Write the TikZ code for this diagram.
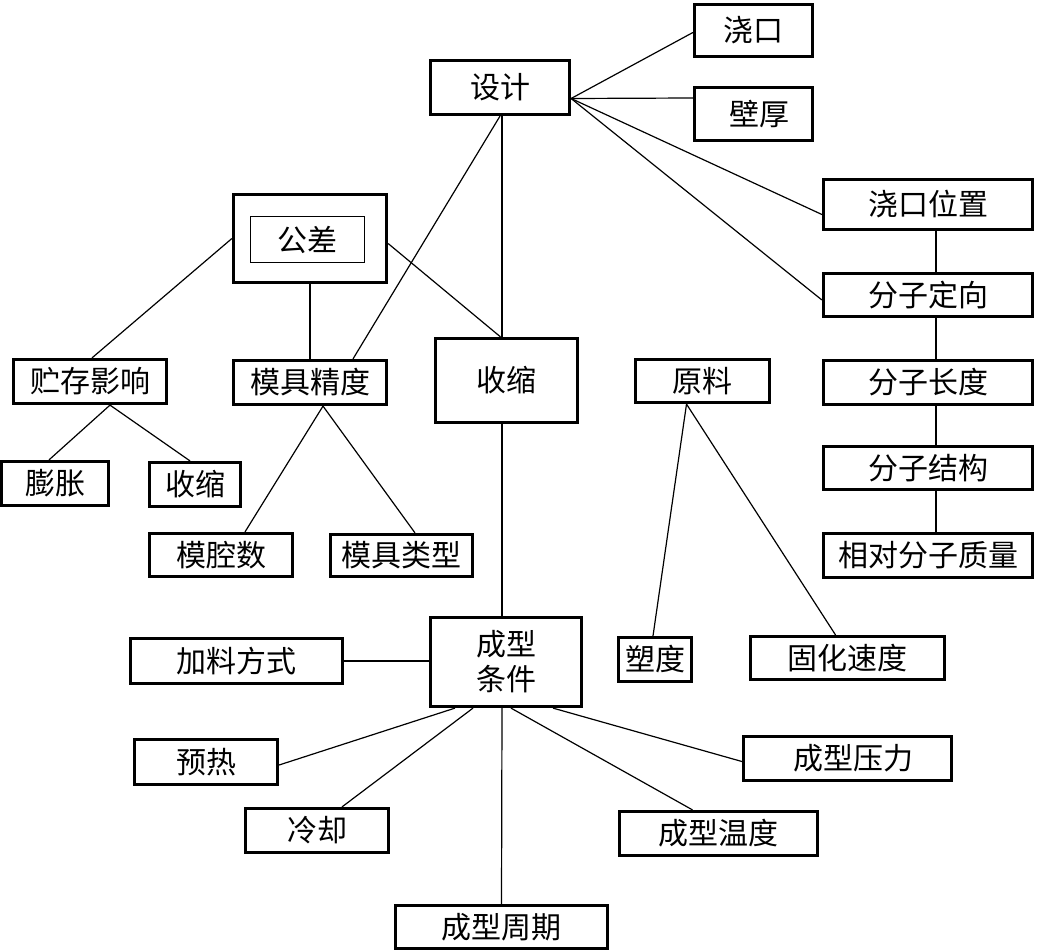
\documentclass[tikz,border=0pt]{standalone}
\usepackage{fontspec}
\newfontfamily\cjk{Noto Sans CJK SC}
\begin{document}
\begin{tikzpicture}[x=1pt,y=-1pt,
  font=\cjk\fontsize{30}{35}\selectfont,
  bx/.style={draw,line width=3.2pt,inner sep=0pt,align=center},
  ln/.style={line width=1.2pt}]
  \useasboundingbox (0,0) rectangle (1038,952);
  \node[bx,minimum width=139pt,minimum height=54pt] (sheji) at (500,87.5) {设计};
  \node[bx,minimum width=118pt,minimum height=52pt] (jiaokou) at (753.5,30.5) {浇口};
  \node[bx,minimum width=118pt,minimum height=53pt] (bihou) at (753.5,114) {\hspace{12pt}壁厚};
  \node[bx,minimum width=209pt,minimum height=50pt] (jkwz) at (928,204.5) {浇口位置};
  \node[bx,minimum width=209pt,minimum height=43pt] (fzdx) at (928,295) {分子定向};
  \node[bx,minimum width=209pt,minimum height=44pt] (fzcd) at (928,382.5) {分子长度};
  \node[bx,minimum width=209pt,minimum height=43pt] (fzjg) at (928,468) {分子结构};
  \node[bx,minimum width=209pt,minimum height=44pt] (xdfz) at (928,555.5) {相对分子质量};
  \node[bx,minimum width=153pt,minimum height=88pt] (gongcha) at (310,238.5) {};
  \node[draw,line width=1pt,inner sep=0pt,minimum width=114pt,minimum height=46pt] (gcin) at (307.5,239.5) {公差};
  \node[bx,minimum width=153pt,minimum height=44pt] (zcyx) at (90,381.5) {贮存影响};
  \node[bx,minimum width=153pt,minimum height=44pt] (mjjd) at (310,382.5) {模具精度};
  \node[bx,minimum width=142pt,minimum height=84pt] (shousuo) at (506.5,380.5) {收缩};
  \node[bx,minimum width=107pt,minimum height=44pt] (pengzhang) at (55,483.5) {膨胀};
  \node[bx,minimum width=91pt,minimum height=44pt] (ssx) at (195,484.5) {收缩};
  \node[bx,minimum width=143pt,minimum height=43pt] (mqs) at (221,555) {模腔数};
  \node[bx,minimum width=142pt,minimum height=42pt] (mjlx) at (401.5,555.5) {模具类型};
  \node[bx,minimum width=134pt,minimum height=43pt] (yuanliao) at (702.5,381) {原料};
  \node[bx,minimum width=151pt,minimum height=89pt] (cxtj) at (506,662) {成型\\条件};
  \node[bx,minimum width=212pt,minimum height=45pt] (jlfs) at (236.5,661) {加料方式};
  \node[bx,minimum width=73pt,minimum height=44pt] (sudu) at (655,659.5) {塑度};
  \node[bx,minimum width=194pt,minimum height=43pt] (ghsd) at (847.5,658) {固化速度};
  \node[bx,minimum width=143pt,minimum height=45pt] (yure) at (206,762) {预热};
  \node[bx,minimum width=143pt,minimum height=44pt] (lengque) at (317,830.5) {冷却};
  \node[bx,minimum width=208pt,minimum height=44pt] (cxyl) at (847.5,758.5) {\hspace{12pt}成型压力};
  \node[bx,minimum width=198pt,minimum height=44pt] (cxwd) at (718.5,833.5) {成型温度};
  \node[bx,minimum width=212pt,minimum height=43pt] (cxzq) at (501.5,927) {成型周期};
  \draw[ln] ([yshift=-11pt]sheji.east) -- ([yshift=-2pt]jiaokou.west);
  \draw[ln] ([yshift=-11pt]sheji.east) -- ([yshift=16pt]bihou.west);
  \draw[ln] ([yshift=-11pt]sheji.east) -- ([yshift=-10pt]jkwz.west);
  \draw[ln] ([yshift=-11pt]sheji.east) -- ([yshift=-5pt]fzdx.west);
  \draw[ln] ([xshift=2pt]sheji.south) -- ([xshift=-4.5pt]shousuo.north);
  \draw[ln] (sheji.south) -- ([xshift=43pt]mjjd.north);
  \draw[ln] (gongcha.west) -- ([xshift=2pt]zcyx.north);
  \draw[ln] ([yshift=-5pt]gongcha.east) -- ([xshift=-6pt]shousuo.north);
  \draw[ln] (gongcha.south) -- (mjjd.north);
  \draw[ln] ([xshift=20pt]zcyx.south) -- ([xshift=-6pt]pengzhang.north);
  \draw[ln] ([xshift=20pt]zcyx.south) -- ([xshift=-5pt]ssx.north);
  \draw[ln] ([xshift=13pt]mjjd.south) -- ([xshift=24pt]mqs.north);
  \draw[ln] ([xshift=13pt]mjjd.south) -- ([xshift=13.5pt]mjlx.north);
  \draw[ln] ([xshift=-4.5pt]shousuo.south) -- ([xshift=-4pt]cxtj.north);
  \draw[ln] ([xshift=8pt]jkwz.south) -- ([xshift=8pt]fzdx.north)
            ([xshift=8pt]fzdx.south) -- ([xshift=8pt]fzcd.north)
            ([xshift=8pt]fzcd.south) -- ([xshift=8pt]fzjg.north)
            ([xshift=8pt]fzjg.south) -- ([xshift=8pt]xdfz.north);
  \draw[ln] ([xshift=-16pt]yuanliao.south) -- ([xshift=-2pt]sudu.north);
  \draw[ln] ([xshift=-16pt]yuanliao.south) -- ([xshift=-12pt]ghsd.north);
  \draw[ln] (jlfs.east) -- (jlfs.east -| cxtj.west);
  \draw[ln] ([xshift=-51pt]cxtj.south) -- ([yshift=-3pt]yure.east);
  \draw[ln] ([xshift=-33pt]cxtj.south) -- ([xshift=25pt]lengque.north);
  \draw[ln] ([xshift=47pt]cxtj.south) -- ([yshift=-3pt]cxyl.west);
  \draw[ln] ([xshift=5pt]cxtj.south) -- ([xshift=-26pt]cxwd.north);
  \draw[ln] ([xshift=-4pt]cxtj.south) -- (cxzq.north);
\end{tikzpicture}
\end{document}
